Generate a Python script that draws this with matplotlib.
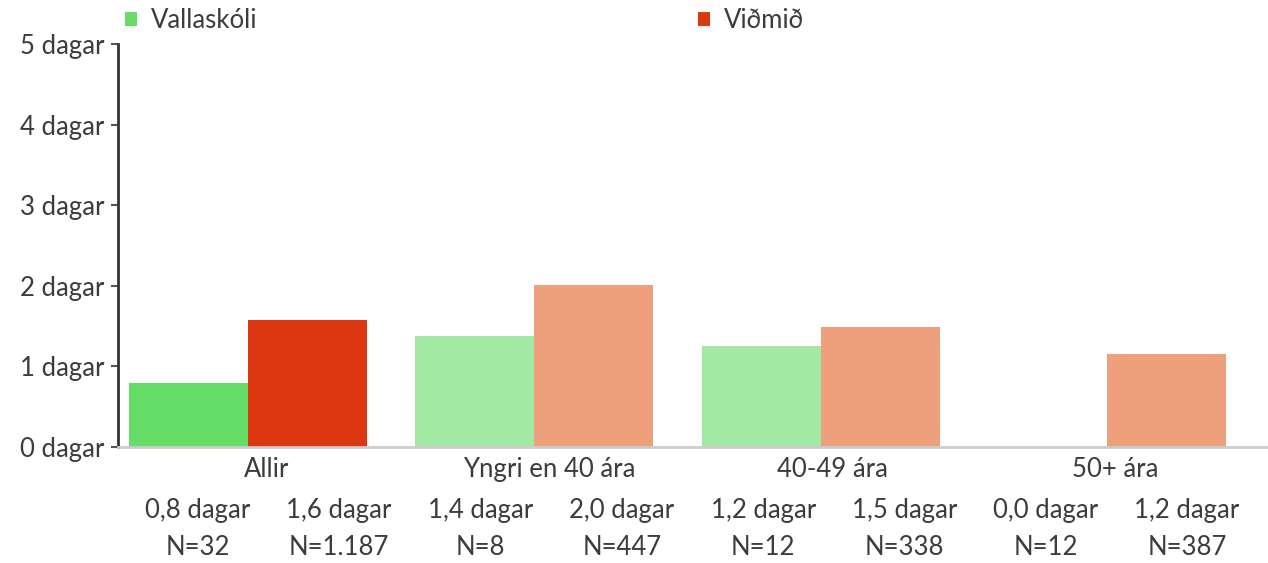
import matplotlib
matplotlib.use("Agg")
import matplotlib.pyplot as plt
from matplotlib.patches import Patch

plt.rcParams['font.family'] = ['Lato', 'DejaVu Sans']

# ---- data ----
categories = ["Allir", "Yngri en 40 ára", "40-49 ára", "50+ ára"]
series_names = ["Vallaskóli", "Viðmið"]
vallaskoli = [0.80, 1.38, 1.25, 0.0]
vidmid = [1.57, 2.01, 1.49, 1.16]
vallaskoli_labels = ["0,8 dagar", "1,4 dagar", "1,2 dagar", "0,0 dagar"]
vidmid_labels = ["1,6 dagar", "2,0 dagar", "1,5 dagar", "1,2 dagar"]
vallaskoli_n = ["N=32", "N=8", "N=12", "N=12"]
vidmid_n = ["N=1.187", "N=447", "N=338", "N=387"]
yticks = [0, 1, 2, 3, 4, 5]
ytick_labels = [f"{v} dagar" for v in yticks]

# ---- colours ----
green_main, red_main = "#66dd66", "#dc3912"
green_light, red_light = "#a3e8a3", "#eea07c"
text_col = "#3c3c3c"
FS = 18.5

W, H = 1268, 563
fig = plt.figure(figsize=(W / 100, H / 100), dpi=100)
ax = fig.add_axes([118 / W, 116 / H, (1268 - 118) / W, 403 / H])

bw = 0.4156
for i in range(len(categories)):
    gc = green_main if i == 0 else green_light
    rc = red_main if i == 0 else red_light
    ax.bar(i, vallaskoli[i], width=bw, align='edge', color=gc, linewidth=0)
    ax.bar(i + bw, vidmid[i], width=bw, align='edge', color=rc, linewidth=0)

ax.set_xlim(-0.0384, 3.978)
ax.set_ylim(0, 5)

ax.set_yticks(yticks)
ax.set_yticklabels(ytick_labels, fontsize=FS, color=text_col)
ax.tick_params(axis='y', length=5, width=1.5, color="#555555", pad=5)
ax.set_xticks([])

for s in ['top', 'right']:
    ax.spines[s].set_visible(False)
ax.spines['left'].set_color("#333333")
ax.spines['left'].set_linewidth(2.0)
ax.spines['bottom'].set_color("#cccccc")
ax.spines['bottom'].set_linewidth(2.0)

xt = ax.get_xaxis_transform()
step = 0.987
for i, cat in enumerate(categories):
    ax.text(0.482 + i * step, -0.0744, cat, transform=xt, ha='center', va='baseline',
            fontsize=FS, color=text_col)
    ax.text(0.241 + i * step, -0.176, vallaskoli_labels[i], transform=xt, ha='center',
            va='baseline', fontsize=FS, color=text_col)
    ax.text(0.734 + i * step, -0.176, vidmid_labels[i], transform=xt, ha='center',
            va='baseline', fontsize=FS, color=text_col)
    ax.text(0.241 + i * step, -0.268, vallaskoli_n[i], transform=xt, ha='center',
            va='baseline', fontsize=FS, color=text_col)
    ax.text(0.734 + i * step, -0.268, vidmid_n[i], transform=xt, ha='center',
            va='baseline', fontsize=FS, color=text_col)

# legends
for name, col, xpx in [(series_names[0], green_main, 125), (series_names[1], red_main, 698)]:
    leg = fig.legend(handles=[Patch(facecolor=col, edgecolor='none', label=name)],
                     loc='center left', bbox_to_anchor=(xpx / W, 1 - 21 / H),
                     frameon=False, fontsize=FS, handlelength=12 / (FS * 100 / 72),
                     handleheight=12 / (FS * 100 / 72),
                     handletextpad=14 / (FS * 100 / 72), borderpad=0, borderaxespad=0)
    for t in leg.get_texts():
        t.set_color(text_col)

fig.savefig("out.png", dpi=100)
